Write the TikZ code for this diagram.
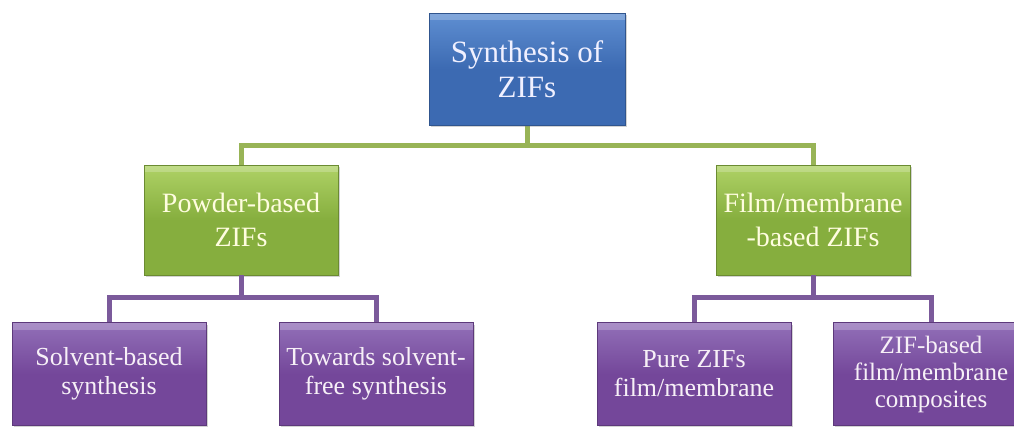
\documentclass[tikz,border=0pt]{standalone}
\usepackage{fontspec}
\setmainfont{Liberation Serif}
\usepackage{tikz}
\usetikzlibrary{positioning, shadows}
\definecolor{zifblue}{HTML}{3C6AB2}
\definecolor{zifbluetop}{HTML}{5F8FD2}
\definecolor{zifgreen}{HTML}{86AE3E}
\definecolor{zifgreentop}{HTML}{AFD266}
\definecolor{zifpurple}{HTML}{74479A}
\definecolor{zifpurpletop}{HTML}{9270B8}
\definecolor{linkgreen}{HTML}{98B456}
\definecolor{linkpurple}{HTML}{7B5A9B}
\tikzset{
  box base/.style   = {rectangle, inner sep=0pt, align=center,
                       drop shadow={opacity=0.35, shadow xshift=2pt,
                                    shadow yshift=-2pt},
                       path picture={
                         \fill[white, opacity=0.22]
                           (path picture bounding box.north west) rectangle
                           ([yshift=-7pt]path picture bounding box.north east);
                       }},
  box top/.style    = {box base, top color=zifbluetop, bottom color=zifblue,
                       middle color=zifblue, draw=zifblue!80!black,
                       text=blue!6!white,
                       minimum width=196pt, minimum height=112pt,
                       font=\fontsize{31}{35}\selectfont},
  box green/.style  = {box base, top color=zifgreentop, bottom color=zifgreen,
                       middle color=zifgreen, draw=zifgreen!80!black,
                       text=yellow!12!white,
                       minimum width=194pt, minimum height=110pt,
                       font=\fontsize{28}{34}\selectfont},
  box purple/.style = {box base, top color=zifpurpletop, bottom color=zifpurple,
                       middle color=zifpurple, draw=zifpurple!80!black,
                       text=violet!6!white,
                       minimum width=194pt, minimum height=103pt,
                       font=\fontsize{26}{29}\selectfont},
  link green/.style  = {linkgreen,  line width=5pt},
  link purple/.style = {linkpurple, line width=5pt},
}

\begin{document}
\begin{tikzpicture}[x=1pt, y=-1pt]
\useasboundingbox (0,0) rectangle (1014,426);
\clip (0,0) rectangle (1014,426);

% =====================================================================
% Connectors (drawn first, boxes sit on top)
% =====================================================================
\coordinate (top) at (527, 125);
\coordinate (powtop) at (241, 165);
\coordinate (filmtop) at (813, 165);
\draw[link green] (top) |- ++(0,20) -| (powtop);
\draw[link green] (top) |- ++(0,20) -| (filmtop);

% =====================================================================
% Level 0 and 1
% =====================================================================
\node[box top]   (syn)  at (527, 69)  {Synthesis of\\ZIFs};
\node[box green] (pow)  at (241, 220) {Powder-based\\ZIFs};
\node[box green] (film) at (813, 220) {Film/membrane\\-based ZIFs};

% Level 2
\node[box purple] (solv) at (109, 374) {Solvent-based\\synthesis};
\node[box purple] (free) at (376, 374) {Towards solvent-\\free synthesis};
\node[box purple] (pure) at (694, 374) {Pure ZIFs\\film/membrane};
\node[box purple, minimum width=196pt,
      font=\fontsize{25}{27}\selectfont] (comp) at (931, 374)
      {ZIF-based\\film/membrane\\composites};

% Purple links under each green box
\draw[link purple] (pow.south) |- ++(0,22) -| (solv.north);
\draw[link purple] (pow.south) |- ++(0,22) -| (free.north);
\draw[link purple] (film.south) |- ++(0,22) -| (pure.north);
\draw[link purple] (film.south) |- ++(0,22) -| (comp.north);

\end{tikzpicture}
\end{document}
